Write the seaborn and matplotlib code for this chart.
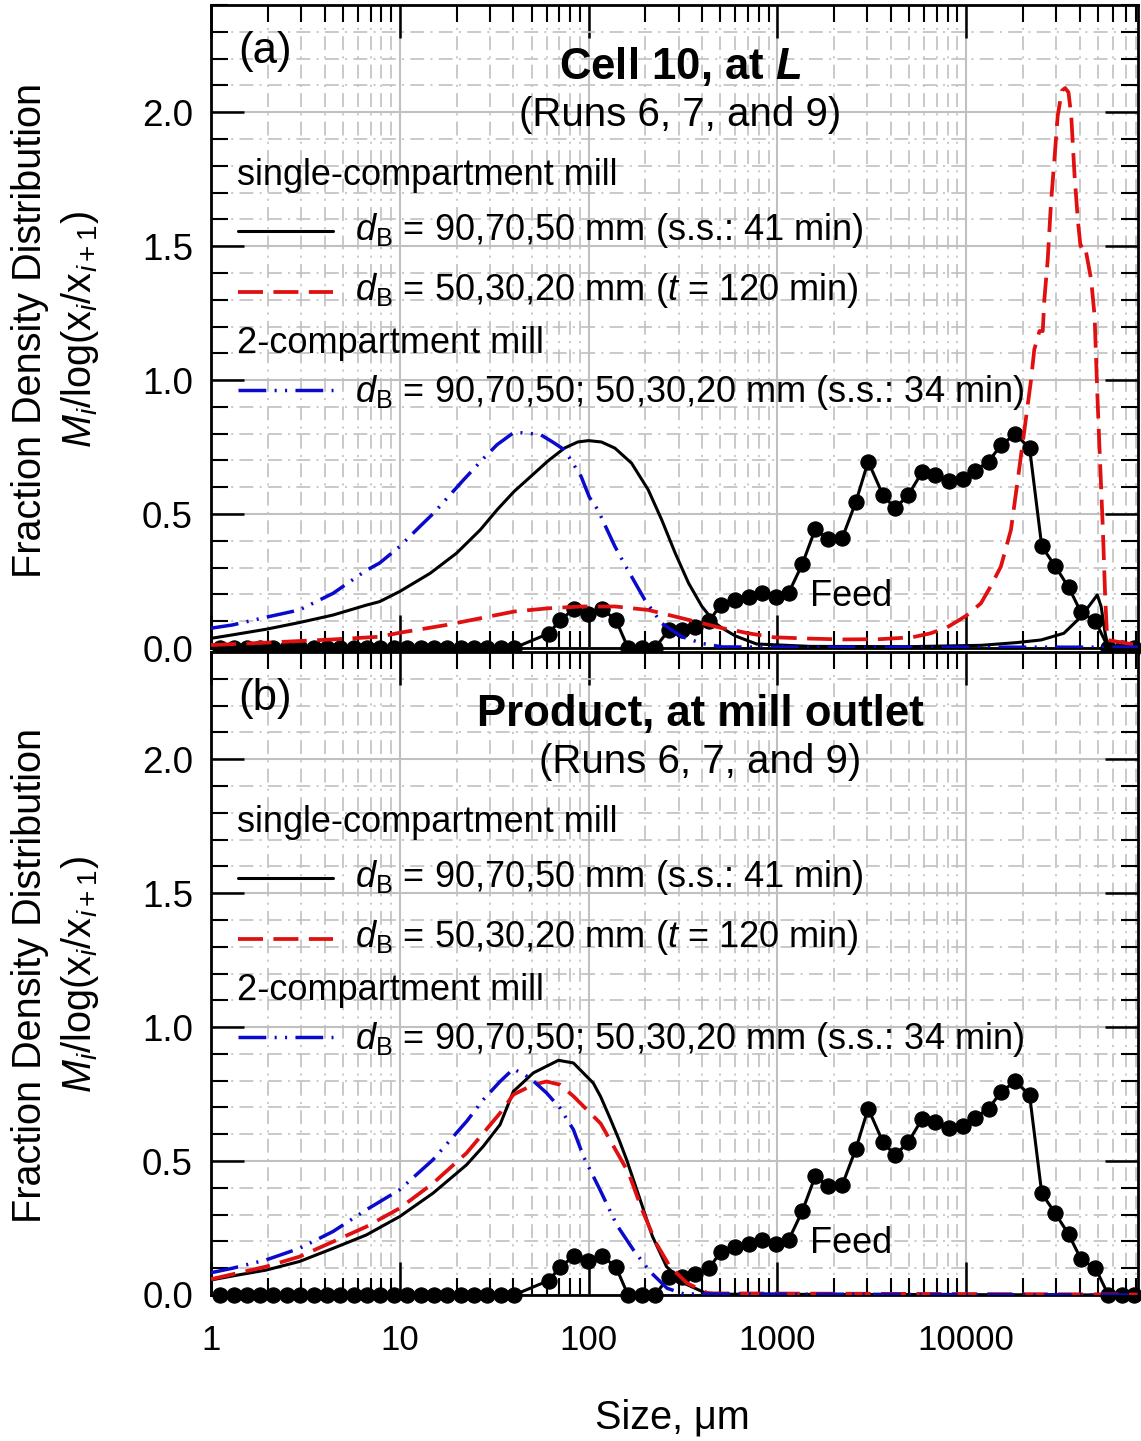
import numpy as np
import matplotlib
matplotlib.use("Agg")
import matplotlib.pyplot as plt
from matplotlib.lines import Line2D
from matplotlib.ticker import FixedLocator, LogLocator, MultipleLocator, NullFormatter
import seaborn as sns

# ---------------- data ----------------
# Feed size distribution (sieve sizes in µm)
feed_size = [1.12, 1.32, 1.55, 1.82, 2.14, 2.52, 2.97, 3.50, 4.11, 4.84, 5.70, 6.71,
             7.89, 9.29, 10.9, 12.9, 15.2, 17.8, 21.0, 24.7, 29.1, 34.2, 40.3,
             61.5, 71, 84, 99.5, 118, 140, 162, 191, 225,
             267, 313, 367, 437, 503, 598, 707, 827, 980, 1150, 1356, 1591, 1862,
             2205, 2611, 3030, 3630, 4207, 4940, 5850, 6870, 8090, 9590, 11200,
             13160, 15400, 18200, 21700, 25200, 29700, 35000, 40700, 48500, 56800,
             66700, 78000]
feed_density = [0] * 23 + [0.054, 0.105, 0.146, 0.128, 0.147, 0.103, 0, 0, 0,
                0.068, 0.068, 0.077, 0.102, 0.162, 0.179, 0.19, 0.204, 0.191, 0.206,
                0.3125, 0.444, 0.406, 0.409, 0.546, 0.696, 0.571, 0.521, 0.571,
                0.656, 0.644, 0.625, 0.631, 0.6625, 0.696, 0.759, 0.797, 0.748,
                0.379, 0.305, 0.226, 0.133, 0.10, 0, 0, 0]

# (a) Cell 10, at L
a_single_9070_x = [1, 1.3, 1.96, 2.94, 4.43, 6.65, 7.82, 10, 14.5, 20, 26.7, 32.8, 40.3,
                   49.4, 60.7, 74.5, 87.7, 100, 117, 138, 169, 207, 244, 288, 339,
                   399, 471, 511, 600, 776, 1500, 5000, 12000, 18450, 25000, 33000,
                   40700, 46000, 49600, 52000, 54600, 56500, 65000, 81500]
a_single_9070_y = [0.036, 0.049, 0.07, 0.095, 0.123, 0.16, 0.173, 0.211, 0.279, 0.354,
                   0.441, 0.516, 0.584, 0.64, 0.697, 0.746, 0.769, 0.774, 0.769, 0.746,
                   0.69, 0.591, 0.479, 0.354, 0.242, 0.155, 0.092, 0.074, 0.045, 0.015,
                   0.006, 0.005, 0.01, 0.02, 0.03, 0.055, 0.117, 0.167, 0.198, 0.154,
                   0.055, 0.005, 0.0, 0.0]

a_single_5030_x = [1, 1.96, 4.43, 7.82, 10, 17.7, 26.7, 40.3, 60.7, 91.4, 138, 207, 313,
                   471, 511, 600, 700, 958, 1500, 2230, 3500, 5190, 6500, 7930, 9000,
                   10000, 12000, 13500, 15300, 17300, 18800, 20400, 22100, 23000,
                   24500, 25500, 26000, 27100, 28200, 29400, 30600, 32200, 33500,
                   34900, 36100, 37600, 39100, 40400, 42500, 46000, 48000, 49600,
                   50900, 53100, 54600, 56000, 81500]
a_single_5030_y = [0.011, 0.02, 0.032, 0.042, 0.057, 0.086, 0.111, 0.136, 0.148, 0.155,
                   0.155, 0.142, 0.111, 0.08, 0.074, 0.065, 0.055, 0.04, 0.035, 0.032,
                   0.033, 0.04, 0.055, 0.077, 0.10, 0.12, 0.167, 0.23, 0.304, 0.441,
                   0.628, 0.815, 1.0, 1.114, 1.183, 1.183, 1.30, 1.45, 1.662, 1.824,
                   1.986, 2.08, 2.09, 2.074, 1.986, 1.762, 1.60, 1.50, 1.507, 1.376,
                   1.238, 0.952, 0.753, 0.441, 0.192, 0.03, 0.01]

a_two_comp_x = [1, 1.3, 1.96, 2.94, 4.43, 6.65, 7.82, 10, 12.8, 15.1, 21.8, 27.9, 32.8,
                40.3, 47.4, 55.8, 64.5, 74.5, 91.4, 101, 112, 138, 156, 169, 199, 244,
                313, 399, 511, 1000, 81500]
a_two_comp_y = [0.074, 0.086, 0.115, 0.142, 0.204, 0.29, 0.317, 0.379, 0.454, 0.503,
                0.628, 0.709, 0.759, 0.805, 0.802, 0.796, 0.769, 0.74, 0.64, 0.563,
                0.516, 0.379, 0.31, 0.267, 0.179, 0.092, 0.042, 0.017, 0.004, 0.003,
                0.003]

# (b) Product, at mill outlet
b_single_9070_x = [1, 1.3, 1.96, 2.94, 4.43, 6.65, 10, 15, 22.6, 27.7, 34, 40, 51, 69.3,
                   83.2, 106, 116, 130, 145, 159, 185, 218, 259, 320, 412, 500, 81500]
b_single_9070_y = [0.056, 0.071, 0.093, 0.125, 0.174, 0.224, 0.293, 0.38, 0.486, 0.555,
                   0.636, 0.76, 0.829, 0.876, 0.866, 0.791, 0.74, 0.66, 0.58, 0.506,
                   0.369, 0.219, 0.106, 0.044, 0.009, 0.003, 0.0]

b_single_5030_x = [1, 1.96, 2.94, 4.43, 6.65, 10, 15, 22.6, 34, 40, 51, 60, 70.5, 83.2,
                   116, 163, 192, 228, 270, 333, 430, 81500]
b_single_5030_y = [0.059, 0.106, 0.143, 0.199, 0.255, 0.324, 0.417, 0.53, 0.679, 0.748,
                   0.785, 0.797, 0.785, 0.742, 0.64, 0.456, 0.319, 0.194, 0.106, 0.044,
                   0.006, 0.002]

b_two_comp_x = [1, 1.3, 1.96, 2.94, 4.43, 6.65, 10, 15, 22.6, 27.7, 34, 40, 49, 60,
                70.5, 83.2, 94, 115, 141, 173, 212, 261, 320, 81500]
b_two_comp_y = [0.083, 0.10, 0.131, 0.174, 0.237, 0.318, 0.393, 0.505, 0.648, 0.729,
                0.797, 0.844, 0.81, 0.754, 0.698, 0.617, 0.517, 0.393, 0.262, 0.168,
                0.087, 0.025, 0.004, 0.0]

x_tick_values = [1, 10, 100, 1000, 10000]
x_tick_labels = ["1", "10", "100", "1000", "10000"]
y_tick_values = [0.0, 0.5, 1.0, 1.5, 2.0]
y_tick_labels = ["0.0", "0.5", "1.0", "1.5", "2.0"]

series_labels = [r"$d_\mathrm{B}$ = 90,70,50 mm (s.s.: 41 min)",
                 r"$d_\mathrm{B}$ = 50,30,20 mm ($t$ = 120 min)",
                 r"$d_\mathrm{B}$ = 90,70,50; 50,30,20 mm (s.s.: 34 min)"]

# ---------------- style ----------------
sns.set_theme(style="ticks")
plt.rcParams["font.family"] = ["Liberation Sans", "DejaVu Sans"]
plt.rcParams["mathtext.fontset"] = "custom"
plt.rcParams["mathtext.rm"] = "Liberation Sans"
plt.rcParams["mathtext.it"] = "Liberation Sans:italic"
plt.rcParams["mathtext.bf"] = "Liberation Sans:bold"
plt.rcParams["mathtext.bfit"] = "Liberation Sans:italic:bold"
plt.rcParams["lines.scale_dashes"] = False
for key in ("text.color", "axes.labelcolor", "xtick.color", "ytick.color",
            "axes.edgecolor"):
    plt.rcParams[key] = "black"

FS = 26          # body text
FS_TITLE = 31.5  # panel headings
FS_RUNS = 29
FS_LABEL = 28.5  # axis titles
BLACK = "#000000"
RED = "#e01010"
BLUE = "#0a0acc"
GRID = "#c0c0c0"
RED_DASH = (18, 7.5)
BLUE_DASH = (20, 6, 1.5, 6, 1.5, 6)

fig = plt.figure(figsize=(11.41, 14.41), dpi=100)
W, H = 1141, 1441
ax_a = fig.add_axes([211 / W, 1 - 648 / H, 927 / W, 643 / H])
ax_b = fig.add_axes([211 / W, 1 - 1295 / H, 927 / W, 643 / H])


def draw_panel(ax, curves, title, title_x, tag):
    ax.set_xscale("log")
    ax.set_xlim(1, 81500)
    ax.set_ylim(0, 2.4)
    ax.set_axisbelow(True)

    # feed distribution: dots joined by lines
    sns.lineplot(x=feed_size, y=feed_density, ax=ax, color=BLACK, lw=2.2,
                 marker="o", markersize=11, markeredgecolor=BLACK,
                 markerfacecolor=BLACK, clip_on=False, zorder=3, sort=False)
    (xs1, ys1), (xs2, ys2), (xs3, ys3) = curves
    sns.lineplot(x=xs1, y=ys1, ax=ax, color=BLACK, lw=2.2, zorder=4, sort=False)
    sns.lineplot(x=xs2, y=ys2, ax=ax, color=RED, lw=2.7, dashes=RED_DASH,
                 zorder=5, sort=False)
    sns.lineplot(x=xs3, y=ys3, ax=ax, color=BLUE, lw=2.5, dashes=BLUE_DASH,
                 zorder=6, sort=False)

    # axes, ticks, grid
    ax.xaxis.set_major_locator(FixedLocator(x_tick_values))
    ax.xaxis.set_minor_locator(LogLocator(base=10, subs=np.arange(2, 10)))
    ax.xaxis.set_minor_formatter(NullFormatter())
    ax.yaxis.set_major_locator(FixedLocator(y_tick_values))
    ax.yaxis.set_minor_locator(MultipleLocator(0.1))
    ax.set_yticklabels(y_tick_labels, fontsize=26.5)
    ax.tick_params(which="both", direction="in", top=True, right=True,
                   bottom=True, left=True, color=BLACK)
    ax.tick_params(which="major", length=24, width=1.8)
    ax.tick_params(which="minor", length=12, width=1.5)
    ax.tick_params(axis="y", which="major", pad=13)
    ax.tick_params(axis="x", which="major", pad=21)
    for sp in ax.spines.values():
        sp.set_linewidth(2.0)
        sp.set_color(BLACK)
        sp.set_visible(True)
    ax.grid(which="major", color=GRID, lw=1.5, ls="-")
    ax.grid(which="minor", color=GRID, lw=1.2, ls=(0, (10, 4.5, 1.5, 4.5)))
    ax.set_xlabel("")
    ax.set_ylabel("")

    # text and key
    ax.text(0.029, 0.9098, tag, transform=ax.transAxes, ha="left",
            va="baseline", fontsize=FS_TITLE)
    ax.text(title_x, 0.885, title, transform=ax.transAxes, ha="center",
            va="baseline", fontsize=FS_TITLE, fontweight="bold")
    ax.text(title_x, 0.812, "(Runs 6, 7, and 9)", transform=ax.transAxes,
            ha="center", va="baseline", fontsize=FS_RUNS)
    ax.text(0.0284, 0.720, "single-compartment mill", transform=ax.transAxes,
            ha="left", va="baseline", fontsize=FS)
    ax.text(0.0284, 0.4583, "2-compartment mill", transform=ax.transAxes,
            ha="left", va="baseline", fontsize=FS)
    keys = [(0.6490, 0.6345, BLACK, None, 2.2),
            (0.5541, 0.5412, RED, RED_DASH, 2.7),
            (0.4012, 0.3831, BLUE, BLUE_DASH, 2.5)]
    for (ly, ty, col, dash, lw), lab in zip(keys, series_labels):
        ln = Line2D([0.0294, 0.1319], [ly, ly], transform=ax.transAxes,
                    color=col, lw=lw, zorder=7)
        if dash is not None:
            ln.set_dashes(dash)
        ax.add_line(ln)
        ax.text(0.1553, ty, lab, transform=ax.transAxes, ha="left",
                va="baseline", fontsize=FS)
    ax.text(0.646, 0.0653, "Feed", transform=ax.transAxes, ha="left",
            va="baseline", fontsize=FS)


draw_panel(ax_a, [(a_single_9070_x, a_single_9070_y),
                  (a_single_5030_x, a_single_5030_y),
                  (a_two_comp_x, a_two_comp_y)],
           r"Cell 10, at $\mathbfit{L}$", 0.506, "(a)")
draw_panel(ax_b, [(b_single_9070_x, b_single_9070_y),
                  (b_single_5030_x, b_single_5030_y),
                  (b_two_comp_x, b_two_comp_y)],
           "Product, at mill outlet", 0.5275, "(b)")

ax_a.set_xticklabels([])
ax_b.set_xticklabels(x_tick_labels, fontsize=25)

for yc in (330, 975):
    fig.text(30 / W, 1 - yc / H, "Fraction Density Distribution", rotation=90,
             ha="center", va="center", fontsize=FS_LABEL)
    fig.text(80 / W, 1 - yc / H, r"$M_i$/log(x$_i$/x$_{i+1}$)", rotation=90,
             ha="center", va="center", fontsize=FS_LABEL)

fig.text(672 / W, 1 - 1418 / H, "Size, μm", ha="center", va="center",
         fontsize=FS_LABEL)

fig.savefig("out.png", dpi=100)
